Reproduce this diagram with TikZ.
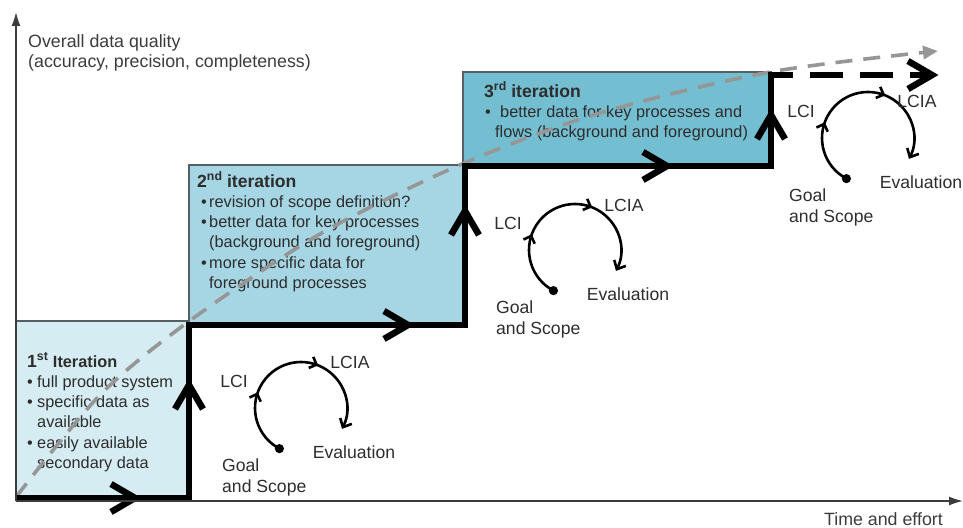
\documentclass[tikz,border=0pt]{standalone}
\usepackage{fontspec}
\setmainfont{Liberation Sans}
\usetikzlibrary{arrows.meta,decorations.markings}
\definecolor{stageA}{RGB}{214,236,243}
\definecolor{stageB}{RGB}{166,214,228}
\definecolor{stageC}{RGB}{116,190,209}
\definecolor{stageEdge}{RGB}{85,95,100}
\definecolor{trendGray}{RGB}{150,150,150}
\definecolor{ink}{RGB}{45,45,45}
\definecolor{axisInk}{RGB}{60,60,60}
% bullet set in a box of fixed width
\newcommand\itm[1]{\makebox[#1][l]{\textbullet}}
% bold heading of an iteration box
\newcommand\ithead[2]{{\fontsize{17.6}{20.3}\selectfont\bfseries #1\textsuperscript{#2}}}

\begin{document}
\begin{tikzpicture}[x=1pt,y=-1pt,
  stage/.style={draw=stageEdge,line width=1.2pt},
  stair/.style={draw=black,line width=6.5pt,line join=miter},
  trend/.style={draw=trendGray,line width=3.6pt,dash pattern=on 17pt off 11pt},
  axis/.style={draw=axisInk,line width=1.5pt,-{Latex[length=14pt,width=9pt]}},
  body/.style={inner sep=0pt,anchor=base west,text=ink,font=\fontsize{16.3}{20.3}\selectfont},
  label/.style={inner sep=0pt,anchor=base west,text=axisInk,font=\fontsize{17.8}{20}\selectfont},
  cyclab/.style={inner sep=0pt,text=ink,font=\fontsize{17.6}{21}\selectfont},
  chev/.pic={\draw[stair] (-24,-14) -- (0,0) -- (-24,14);},
  loop/.style={line width=2.6pt,postaction={decorate},
    decoration={markings,
      mark=at position 0.305 with {\arrow{Straight Barb[length=6pt,width=12pt]}},
      mark=at position 0.647 with {\arrow{Straight Barb[length=6pt,width=12pt]}}}},
  cyc/.pic={
    \draw[loop,-{Straight Barb[length=7pt,width=13pt]}] (118:46) arc[start angle=118,end angle=387,radius=46];
    \fill (118:46) circle[radius=4.6];
    \node[cyclab] (-lci) at (-67,-27) {LCI};
    \node[cyclab] (-lcia) at (49,#1) {LCIA};
    \node[cyclab] (-eval) at (53,44) {Evaluation};
    \node[cyclab,anchor=base west] (-goal) at (-79,63) {\parbox[t]{100pt}{Goal\\and Scope}};
  }
]
\useasboundingbox (0,0) rectangle (963,527);

% iteration stages
\filldraw[stage,fill=stageA] (16,321) rectangle (189,500);
\filldraw[stage,fill=stageB] (189,165) rectangle (463,325);
\filldraw[stage,fill=stageC] (463,72) rectangle (771,166);

\node[body] (it1) at (27,367) {\parbox[t]{170pt}{%
  \ithead{1}{st} \textbf{Iteration}\\
  \itm{10pt}full product system\\
  \itm{10pt}specific data as\\
  \hspace*{10pt}available\\
  \itm{10pt}easily available\\
  \hspace*{10pt}secondary data}};

\node[body] (it2) at (197,187) {\parbox[t]{270pt}{%
  \ithead{2}{nd} {\fontsize{17.6}{20.3}\selectfont\bfseries iteration}\\
  \hspace*{4pt}\itm{8pt}revision of scope definition?\\
  \hspace*{4pt}\itm{8pt}better data for key processes\\
  \hspace*{12pt}(background and foreground)\\
  \hspace*{4pt}\itm{8pt}more specific data for\\
  \hspace*{12pt}foreground processes}};

\node[body] (it3) at (484,97) {\parbox[t]{300pt}{%
  \ithead{3}{rd} {\fontsize{17.6}{20.3}\selectfont\bfseries iteration}\\
  \hspace*{1pt}\itm{15pt}better data for key processes and\\
  \hspace*{11pt}flows (background and foreground)}};

% overall quality trend
\draw[trend,-{Triangle[length=15pt,width=13pt]}] plot[smooth] coordinates
  {(16,497) (100,395) (188,322) (320,234) (462,164) (600,113) (770,72) (938,51)};

% iteration staircase
\coordinate (s0) at (16,498);
\coordinate (s1) at (189,498);
\coordinate (s2) at (189,325);
\coordinate (s3) at (465,325);
\coordinate (s4) at (465,166);
\coordinate (s5) at (771,166);
\coordinate (s6) at (771,72);
\coordinate (s7) at (771,75);
\coordinate (s8) at (932,75);
\draw[stair] (s0) -- (s1) -- (s2) -- (s3) -- (s4) -- (s5) -- (s6);
\draw[stair,dash pattern=on 33pt off 17pt,dash phase=11pt] (s7) -- (s8);
\pic at (135,498) {chev};
\pic[rotate=90] at (189,385) {chev};
\pic at (408,325) {chev};
\pic[rotate=90] at (465,211) {chev};
\pic at (667,166) {chev};
\pic[rotate=90] at (771,115) {chev};
\pic at (s8) {chev};

% LCA phase cycles
\pic (k1) at (301,408) {cyc=-46};
\pic (k2) at (575,250) {cyc=-45};
\pic (k3) at (868,138) {cyc=-37};

% axes
\coordinate (origin) at (16,501);
\coordinate (ytip) at (16,12);
\coordinate (xtip) at (963,501);
\draw[axis] (origin) -- (ytip);
\draw[axis] (origin) -- (xtip);
\node[label] (ylab) at (28,48) {\parbox[t]{340pt}{Overall data quality\\(accuracy, precision, completeness)}};
\node[label,anchor=base east] (xlab) at (943,525) {Time and effort};
\end{tikzpicture}
\end{document}
